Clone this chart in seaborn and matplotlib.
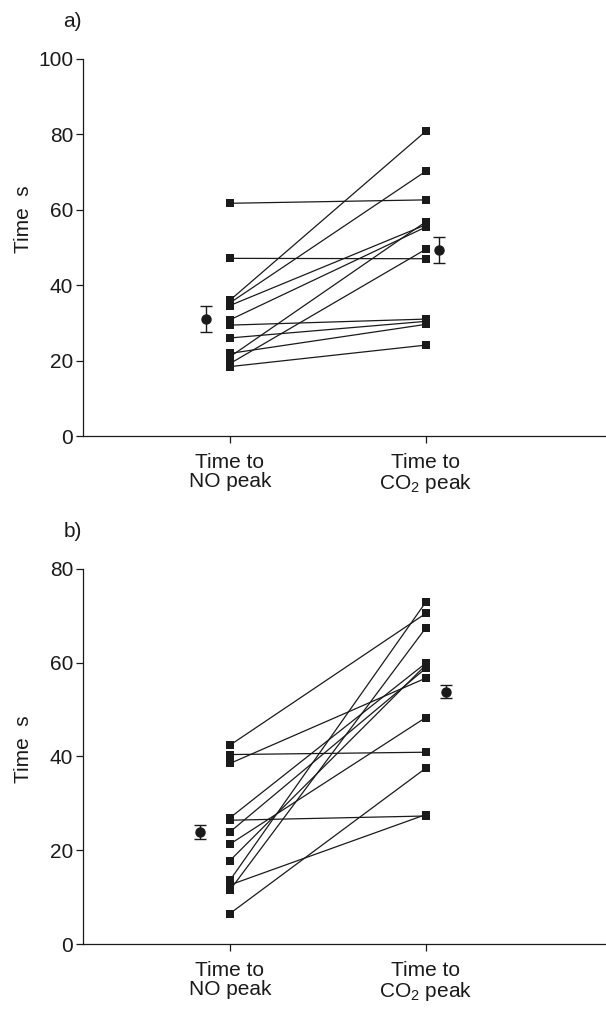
import numpy as np
import pandas as pd
import matplotlib
matplotlib.use("Agg")
import matplotlib.pyplot as plt
import seaborn as sns

# ---------------- data ----------------
categories = ["Time to\nNO peak", "Time to\nCO$_2$ peak"]

# panel a: paired subject values
a_no = [61.7, 47.1, 36.0, 35.3, 34.6, 30.8, 29.4, 26.0, 21.9, 21.0, 19.2, 18.4]
a_co2 = [62.6, 47.0, 80.8, 70.2, 56.0, 55.4, 31.0, 30.4, 29.6, 56.8, 49.5, 24.1]
a_mean = [31.0, 49.3]
a_err = [3.5, 3.4]

# panel b: paired subject values
b_no = [42.4, 40.4, 38.5, 26.9, 26.4, 23.9, 21.3, 17.8, 13.6, 12.6, 11.5, 6.5]
b_co2 = [70.5, 40.9, 56.7, 59.9, 27.3, 58.8, 48.3, 59.5, 72.9, 27.6, 67.4, 37.5]
b_mean = [23.9, 53.8]
b_err = [1.4, 1.4]

y_ticks_a = [0, 20, 40, 60, 80, 100]
y_ticks_b = [0, 20, 40, 60, 80]

# ---------------- style ----------------
sns.set_theme(style="ticks")
plt.rcParams["font.family"] = ["Liberation Sans", "DejaVu Sans"]
plt.rcParams["mathtext.fontset"] = "custom"
plt.rcParams["mathtext.rm"] = "Liberation Sans"
plt.rcParams["mathtext.it"] = "Liberation Sans"
FS = 15
INK = "#1a1a1a"

fig = plt.figure(figsize=(6.06, 10.14), dpi=100)
ax_a = fig.add_axes([0.137, 0.570, 0.863, 0.372])
ax_b = fig.add_axes([0.137, 0.069, 0.863, 0.370])


def draw(ax, no, co2, mean, err, yticks, label, mean_off, ylab_y):
    n = len(no)
    df = pd.DataFrame({
        "subject": list(range(n)) * 2,
        "x": [0] * n + [1] * n,
        "value": list(no) + list(co2),
    })
    sns.lineplot(data=df, x="x", y="value", units="subject", estimator=None,
                 color=INK, lw=0.9, marker="s", markersize=5.5,
                 markeredgewidth=0, legend=False, ax=ax)
    for i in range(2):
        ax.errorbar(i + mean_off[i], mean[i], yerr=err[i], fmt="o", color=INK,
                    ms=6.5, capsize=4.5, elinewidth=1.0, capthick=1.0)
    ax.set_xlim(-0.75, 1.92)
    ax.set_ylim(yticks[0], yticks[-1])
    ax.set_yticks(yticks)
    ax.set_yticklabels([str(t) for t in yticks], fontsize=FS, color=INK)
    ax.set_xticks([0, 1])
    ax.set_xticklabels(categories, fontsize=FS, color=INK, linespacing=1.0)
    ax.set_xlabel("")
    ax.set_ylabel("Time  s", fontsize=FS, color=INK)
    ax.yaxis.set_label_coords(-0.096, ylab_y)
    ax.tick_params(axis="y", direction="out", length=5, width=0.9,
                   colors=INK, pad=2)
    ax.tick_params(axis="x", direction="out", length=5, width=0.9,
                   colors=INK, pad=7)
    for s in ["top", "right"]:
        ax.spines[s].set_visible(False)
    for s in ["left", "bottom"]:
        ax.spines[s].set_linewidth(0.9)
        ax.spines[s].set_color(INK)
    ax.annotate(label, xy=(0, 1), xycoords="axes fraction",
                xytext=(-1, 28), textcoords="offset pixels",
                ha="right", va="bottom", fontsize=FS, color=INK)


draw(ax_a, a_no, a_co2, a_mean, a_err, y_ticks_a, "a)", [-0.122, 0.066], 0.575)
draw(ax_b, b_no, b_co2, b_mean, b_err, y_ticks_b, "b)", [-0.153, 0.105], 0.52)

fig.savefig("out.png", dpi=100)
